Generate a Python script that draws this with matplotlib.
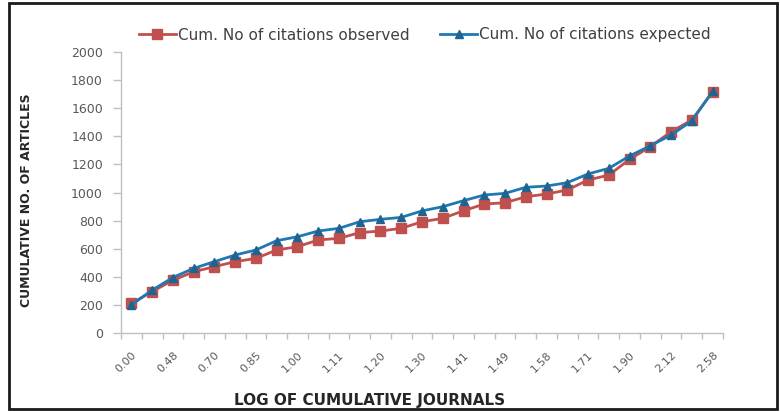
import numpy as np
import matplotlib
matplotlib.use("Agg")
import matplotlib.pyplot as plt
from matplotlib.patches import Rectangle

# values, one per category (29 categories)
observed = [210, 295, 375, 436, 472, 508, 531, 591, 614, 662, 674, 714, 726, 745,
            792, 816, 870, 918, 927, 970, 989, 1018, 1089, 1124, 1236, 1326, 1433,
            1516, 1717]
expected = [200, 305, 395, 460, 508, 555, 591, 657, 685, 726, 745, 792, 809, 823,
            869, 899, 942, 982, 994, 1037, 1046, 1070, 1132, 1172, 1260, 1333, 1409,
            1510, 1720]
# only every second category carries a visible label
shown_labels = ["0.00", "0.48", "0.70", "0.85", "1.00", "1.11", "1.20", "1.30",
                "1.41", "1.49", "1.58", "1.71", "1.90", "2.12", "2.58"]
y_ticks = [0, 200, 400, 600, 800, 1000, 1200, 1400, 1600, 1800, 2000]

W, H = 780, 412
fig = plt.figure(figsize=(W / 100, H / 100), dpi=100)
ax = fig.add_axes([121 / W, 1 - 333 / H, (723 - 121) / W, (333 - 52) / H])

x = np.arange(len(observed))
red = "#C0504D"
blue = "#1F78B4"
ax.plot(x, observed, color=red, lw=2, marker="s", ms=6.5, mfc=red, mec=red,
        label="Cum. No of citations observed")
ax.plot(x, expected, color=blue, lw=2, marker="^", ms=6, mfc="#1F6390", mec="#1F6390",
        label="Cum. No of citations expected")

ax.set_xlim(-0.5, len(observed) - 0.5)
ax.set_ylim(0, 2000)

for s in ["top", "right"]:
    ax.spines[s].set_visible(False)
for s in ["left", "bottom"]:
    ax.spines[s].set_color("#BFBFBF")
    ax.spines[s].set_linewidth(1)

ax.set_yticks(y_ticks)
ax.tick_params(axis="y", colors="#BFBFBF", length=6, width=1, pad=7,
               labelcolor="#595959", labelsize=9)

# category labels on every other point, tick marks between categories
ax.set_xticks(x[::2])
ax.set_xticklabels(shown_labels, rotation=45, ha="right", rotation_mode="anchor")
ax.set_xticks(np.arange(-0.5, len(observed)), minor=True)
ax.tick_params(axis="x", which="major", length=0, pad=12, labelcolor="#595959",
               labelsize=8)
ax.tick_params(axis="x", which="minor", length=4, width=1, colors="#BFBFBF")

fig.text(27 / W, 1 - 200 / H, "CUMULATIVE NO. OF ARTICLES", rotation=90,
         ha="center", va="center", fontsize=9, fontweight="bold",
         color="#262626")
fig.text(370 / W, 1 - 400 / H, "LOG OF CUMULATIVE JOURNALS", ha="center",
         va="center", fontsize=11, fontweight="bold", color="#262626")

fig.legend(loc="center", bbox_to_anchor=(425 / W, 1 - 35 / H), ncol=2,
           frameon=False, fontsize=11, handlelength=2.4, columnspacing=2.0,
           handletextpad=0.15, labelcolor="#404040")

# outer chart border
fig.patches.append(Rectangle((9 / W, 3 / H), (777 - 9) / W, (409 - 3) / H,
                             transform=fig.transFigure, fill=False,
                             edgecolor="#1A1A1A", lw=2))

fig.savefig("out.png", dpi=100)
